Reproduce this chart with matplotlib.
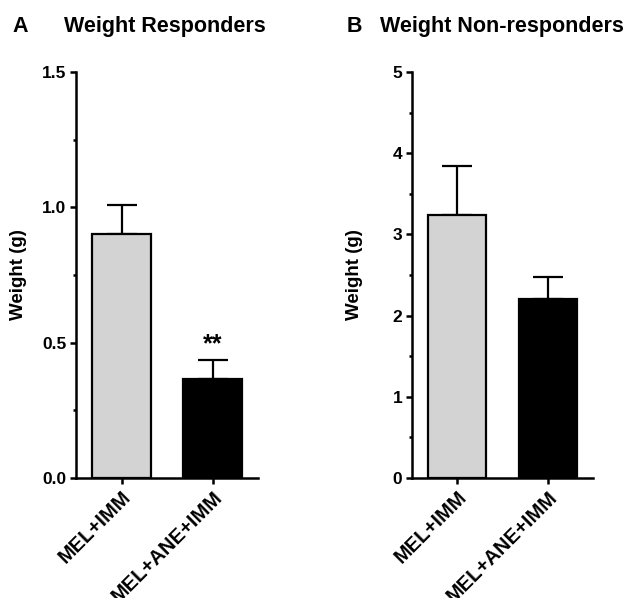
import numpy as np
import matplotlib.pyplot as plt
from matplotlib.ticker import MultipleLocator

plt.rcParams['font.family'] = ['Liberation Sans', 'DejaVu Sans']
plt.rcParams['font.weight'] = 'bold'

groups = ['MEL+IMM', 'MEL+ANE+IMM']
bar_colors = ['#d3d3d3', '#000000']

resp_mean = [0.90, 0.365]
resp_err = [0.11, 0.072]

nonresp_mean = [3.24, 2.21]
nonresp_err = [0.60, 0.26]

fig = plt.figure(figsize=(6.28, 5.98), dpi=100)
axA = fig.add_axes([76/628, 120/598, 182/628, 406/598])
axB = fig.add_axes([412/628, 120/598, 181/628, 406/598])


def draw_panel(ax, means, errs, ymax, major, minor):
    x = np.arange(len(groups))
    ax.bar(x, means, width=0.64, color=bar_colors, edgecolor='black',
           linewidth=1.6, zorder=2)
    ax.errorbar(x, means, yerr=[np.zeros(len(errs)), errs], fmt='none',
                ecolor='black', elinewidth=1.6, capsize=11, capthick=1.6,
                zorder=1)
    ax.set_xlim(-0.5, 1.5)
    ax.set_ylim(0, ymax)
    ax.spines['top'].set_visible(False)
    ax.spines['right'].set_visible(False)
    ax.spines['left'].set_linewidth(1.8)
    ax.spines['bottom'].set_linewidth(1.8)
    ax.spines['left'].set_bounds(0, ymax)
    ax.set_xticks(x)
    ax.set_xticklabels(groups, rotation=45, ha='right', rotation_mode='anchor',
                       fontsize=14.5, fontweight='bold')
    ax.yaxis.set_major_locator(MultipleLocator(major))
    ax.yaxis.set_minor_locator(MultipleLocator(minor))
    ax.tick_params(axis='both', which='major', length=4.5, width=1.8,
                   pad=2.5)
    ax.tick_params(axis='y', which='major', labelsize=12.5)
    ax.tick_params(axis='y', which='minor', length=2.5, width=1.8)
    ax.set_ylabel('Weight (g)', fontsize=13.5, fontweight='bold')
    ax.yaxis.set_label_coords(-0.27, 0.5)
    ax.patch.set_visible(False)


draw_panel(axA, resp_mean, resp_err, 1.5, 0.5, 0.25)
axA.yaxis.set_major_formatter(plt.FormatStrFormatter('%.1f'))
# significance mark over the treated group
axA.text(1, resp_mean[1] + resp_err[1] + 0.012, '**', ha='center',
         va='bottom', fontsize=18, fontweight='bold')

draw_panel(axB, nonresp_mean, nonresp_err, 5, 1, 0.5)

fig.text(12/628, 1 - 32/598, 'A', fontsize=15.5, fontweight='bold')
fig.text(64/628, 1 - 32/598, 'Weight Responders', fontsize=15.5,
         fontweight='bold')
fig.text(347/628, 1 - 32/598, 'B', fontsize=15.5, fontweight='bold')
fig.text(380/628, 1 - 32/598, 'Weight Non-responders', fontsize=15.5,
         fontweight='bold')

fig.savefig('out.png', dpi=100)
